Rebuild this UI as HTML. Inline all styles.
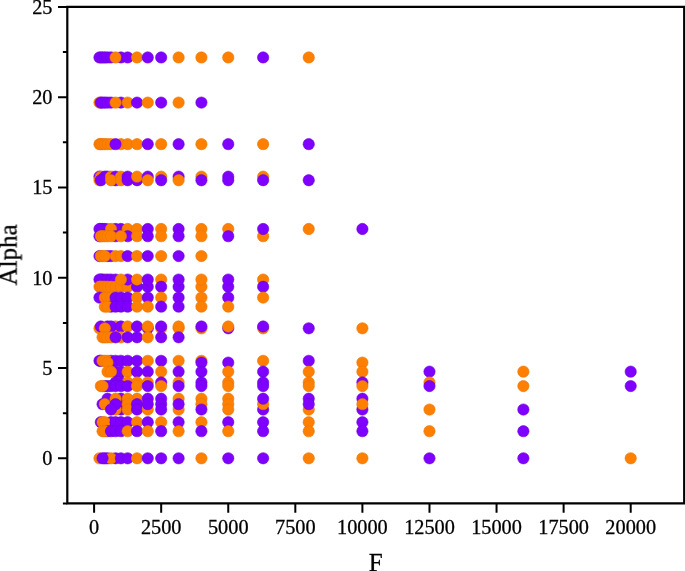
<!DOCTYPE html>
<html><head><meta charset="utf-8"><title>Scatter</title>
<style>
html,body{margin:0;padding:0;background:#fff;}
body{width:685px;height:571px;overflow:hidden;font-family:"Liberation Serif", serif;}
svg{display:block;}
</style></head>
<body>
<svg width="685" height="571" viewBox="0 0 685 571">
<rect width="685" height="571" fill="#fff"/>
<g stroke-width="0.6">
<circle cx="100.81" cy="57.46" r="5.65" fill="#ff8000" stroke="#e87400"/>
<circle cx="99.47" cy="57.46" r="5.65" fill="#8000ff" stroke="#6c00d8"/>
<circle cx="102.55" cy="57.46" r="5.65" fill="#8000ff" stroke="#6c00d8"/>
<circle cx="104.83" cy="57.46" r="5.65" fill="#8000ff" stroke="#6c00d8"/>
<circle cx="107.51" cy="57.46" r="5.65" fill="#8000ff" stroke="#6c00d8"/>
<circle cx="111.00" cy="57.46" r="5.65" fill="#8000ff" stroke="#6c00d8"/>
<circle cx="120.93" cy="57.46" r="5.65" fill="#8000ff" stroke="#6c00d8"/>
<circle cx="115.56" cy="57.46" r="5.65" fill="#ff8000" stroke="#e87400"/>
<circle cx="127.64" cy="57.46" r="5.65" fill="#8000ff" stroke="#6c00d8"/>
<circle cx="137.03" cy="57.46" r="5.65" fill="#ff8000" stroke="#e87400"/>
<circle cx="147.76" cy="57.46" r="5.65" fill="#8000ff" stroke="#6c00d8"/>
<circle cx="161.18" cy="57.46" r="5.65" fill="#8000ff" stroke="#6c00d8"/>
<circle cx="178.61" cy="57.46" r="5.65" fill="#ff8000" stroke="#e87400"/>
<circle cx="201.42" cy="57.46" r="5.65" fill="#ff8000" stroke="#e87400"/>
<circle cx="228.25" cy="57.46" r="5.65" fill="#ff8000" stroke="#e87400"/>
<circle cx="263.13" cy="57.46" r="5.65" fill="#8000ff" stroke="#6c00d8"/>
<circle cx="308.74" cy="57.46" r="5.65" fill="#ff8000" stroke="#e87400"/>
<circle cx="99.47" cy="102.60" r="5.65" fill="#ff8000" stroke="#e87400"/>
<circle cx="100.81" cy="102.60" r="5.65" fill="#8000ff" stroke="#6c00d8"/>
<circle cx="102.55" cy="102.60" r="5.65" fill="#8000ff" stroke="#6c00d8"/>
<circle cx="104.83" cy="102.60" r="5.65" fill="#8000ff" stroke="#6c00d8"/>
<circle cx="107.51" cy="102.60" r="5.65" fill="#8000ff" stroke="#6c00d8"/>
<circle cx="111.00" cy="102.60" r="5.65" fill="#8000ff" stroke="#6c00d8"/>
<circle cx="120.93" cy="102.60" r="5.65" fill="#8000ff" stroke="#6c00d8"/>
<circle cx="115.56" cy="102.60" r="5.65" fill="#ff8000" stroke="#e87400"/>
<circle cx="127.64" cy="102.60" r="5.65" fill="#ff8000" stroke="#e87400"/>
<circle cx="137.03" cy="102.60" r="5.65" fill="#8000ff" stroke="#6c00d8"/>
<circle cx="147.76" cy="102.60" r="5.65" fill="#ff8000" stroke="#e87400"/>
<circle cx="161.18" cy="102.60" r="5.65" fill="#8000ff" stroke="#6c00d8"/>
<circle cx="178.61" cy="102.60" r="5.65" fill="#ff8000" stroke="#e87400"/>
<circle cx="201.42" cy="102.60" r="5.65" fill="#8000ff" stroke="#6c00d8"/>
<circle cx="99.47" cy="144.13" r="5.65" fill="#ff8000" stroke="#e87400"/>
<circle cx="100.81" cy="144.13" r="5.65" fill="#ff8000" stroke="#e87400"/>
<circle cx="102.55" cy="144.13" r="5.65" fill="#ff8000" stroke="#e87400"/>
<circle cx="104.83" cy="144.13" r="5.65" fill="#ff8000" stroke="#e87400"/>
<circle cx="107.51" cy="144.13" r="5.65" fill="#ff8000" stroke="#e87400"/>
<circle cx="111.00" cy="144.13" r="5.65" fill="#ff8000" stroke="#e87400"/>
<circle cx="120.93" cy="144.13" r="5.65" fill="#ff8000" stroke="#e87400"/>
<circle cx="115.56" cy="144.13" r="5.65" fill="#8000ff" stroke="#6c00d8"/>
<circle cx="127.64" cy="144.13" r="5.65" fill="#ff8000" stroke="#e87400"/>
<circle cx="137.03" cy="144.13" r="5.65" fill="#ff8000" stroke="#e87400"/>
<circle cx="147.76" cy="144.13" r="5.65" fill="#8000ff" stroke="#6c00d8"/>
<circle cx="161.18" cy="144.13" r="5.65" fill="#ff8000" stroke="#e87400"/>
<circle cx="178.61" cy="144.13" r="5.65" fill="#8000ff" stroke="#6c00d8"/>
<circle cx="201.42" cy="144.13" r="5.65" fill="#ff8000" stroke="#e87400"/>
<circle cx="228.25" cy="144.13" r="5.65" fill="#8000ff" stroke="#6c00d8"/>
<circle cx="263.13" cy="144.13" r="5.65" fill="#ff8000" stroke="#e87400"/>
<circle cx="308.74" cy="144.13" r="5.65" fill="#8000ff" stroke="#6c00d8"/>
<circle cx="99.47" cy="176.63" r="5.65" fill="#8000ff" stroke="#6c00d8"/>
<circle cx="99.47" cy="180.24" r="5.65" fill="#ff8000" stroke="#e87400"/>
<circle cx="100.81" cy="176.63" r="5.65" fill="#ff8000" stroke="#e87400"/>
<circle cx="104.83" cy="176.63" r="5.65" fill="#8000ff" stroke="#6c00d8"/>
<circle cx="107.51" cy="176.63" r="5.65" fill="#8000ff" stroke="#6c00d8"/>
<circle cx="100.81" cy="180.24" r="5.65" fill="#8000ff" stroke="#6c00d8"/>
<circle cx="115.56" cy="180.24" r="5.65" fill="#8000ff" stroke="#6c00d8"/>
<circle cx="111.00" cy="176.63" r="5.65" fill="#ff8000" stroke="#e87400"/>
<circle cx="115.56" cy="176.63" r="5.65" fill="#8000ff" stroke="#6c00d8"/>
<circle cx="111.00" cy="180.24" r="5.65" fill="#ff8000" stroke="#e87400"/>
<circle cx="120.93" cy="176.63" r="5.65" fill="#ff8000" stroke="#e87400"/>
<circle cx="120.93" cy="180.24" r="5.65" fill="#ff8000" stroke="#e87400"/>
<circle cx="127.64" cy="176.63" r="5.65" fill="#8000ff" stroke="#6c00d8"/>
<circle cx="127.64" cy="180.24" r="5.65" fill="#8000ff" stroke="#6c00d8"/>
<circle cx="137.03" cy="180.24" r="5.65" fill="#8000ff" stroke="#6c00d8"/>
<circle cx="137.03" cy="176.63" r="5.65" fill="#ff8000" stroke="#e87400"/>
<circle cx="147.76" cy="176.63" r="5.65" fill="#8000ff" stroke="#6c00d8"/>
<circle cx="161.18" cy="176.63" r="5.65" fill="#ff8000" stroke="#e87400"/>
<circle cx="178.61" cy="176.63" r="5.65" fill="#8000ff" stroke="#6c00d8"/>
<circle cx="201.42" cy="176.63" r="5.65" fill="#ff8000" stroke="#e87400"/>
<circle cx="228.25" cy="176.63" r="5.65" fill="#8000ff" stroke="#6c00d8"/>
<circle cx="263.13" cy="176.63" r="5.65" fill="#ff8000" stroke="#e87400"/>
<circle cx="147.76" cy="180.24" r="5.65" fill="#ff8000" stroke="#e87400"/>
<circle cx="161.18" cy="180.24" r="5.65" fill="#8000ff" stroke="#6c00d8"/>
<circle cx="178.61" cy="180.24" r="5.65" fill="#ff8000" stroke="#e87400"/>
<circle cx="201.42" cy="180.24" r="5.65" fill="#8000ff" stroke="#6c00d8"/>
<circle cx="228.25" cy="180.24" r="5.65" fill="#8000ff" stroke="#6c00d8"/>
<circle cx="263.13" cy="180.24" r="5.65" fill="#8000ff" stroke="#6c00d8"/>
<circle cx="308.74" cy="180.24" r="5.65" fill="#8000ff" stroke="#6c00d8"/>
<circle cx="263.13" cy="236.21" r="5.65" fill="#ff8000" stroke="#e87400"/>
<circle cx="120.93" cy="228.99" r="5.65" fill="#8000ff" stroke="#6c00d8"/>
<circle cx="115.56" cy="228.99" r="5.65" fill="#8000ff" stroke="#6c00d8"/>
<circle cx="107.51" cy="228.99" r="5.65" fill="#ff8000" stroke="#e87400"/>
<circle cx="102.55" cy="228.99" r="5.65" fill="#8000ff" stroke="#6c00d8"/>
<circle cx="104.83" cy="228.99" r="5.65" fill="#8000ff" stroke="#6c00d8"/>
<circle cx="100.81" cy="228.99" r="5.65" fill="#8000ff" stroke="#6c00d8"/>
<circle cx="99.47" cy="228.99" r="5.65" fill="#8000ff" stroke="#6c00d8"/>
<circle cx="111.00" cy="228.99" r="5.65" fill="#ff8000" stroke="#e87400"/>
<circle cx="127.64" cy="228.99" r="5.65" fill="#ff8000" stroke="#e87400"/>
<circle cx="137.03" cy="228.99" r="5.65" fill="#ff8000" stroke="#e87400"/>
<circle cx="147.76" cy="228.99" r="5.65" fill="#8000ff" stroke="#6c00d8"/>
<circle cx="161.18" cy="228.99" r="5.65" fill="#ff8000" stroke="#e87400"/>
<circle cx="178.61" cy="228.99" r="5.65" fill="#8000ff" stroke="#6c00d8"/>
<circle cx="201.42" cy="228.99" r="5.65" fill="#ff8000" stroke="#e87400"/>
<circle cx="228.25" cy="228.99" r="5.65" fill="#ff8000" stroke="#e87400"/>
<circle cx="263.13" cy="228.99" r="5.65" fill="#8000ff" stroke="#6c00d8"/>
<circle cx="308.74" cy="228.99" r="5.65" fill="#ff8000" stroke="#e87400"/>
<circle cx="362.40" cy="228.99" r="5.65" fill="#8000ff" stroke="#6c00d8"/>
<circle cx="99.47" cy="236.21" r="5.65" fill="#8000ff" stroke="#6c00d8"/>
<circle cx="115.56" cy="236.21" r="5.65" fill="#8000ff" stroke="#6c00d8"/>
<circle cx="127.64" cy="236.21" r="5.65" fill="#8000ff" stroke="#6c00d8"/>
<circle cx="100.81" cy="236.21" r="5.65" fill="#ff8000" stroke="#e87400"/>
<circle cx="102.55" cy="236.21" r="5.65" fill="#ff8000" stroke="#e87400"/>
<circle cx="104.83" cy="236.21" r="5.65" fill="#ff8000" stroke="#e87400"/>
<circle cx="107.51" cy="236.21" r="5.65" fill="#ff8000" stroke="#e87400"/>
<circle cx="111.00" cy="236.21" r="5.65" fill="#ff8000" stroke="#e87400"/>
<circle cx="120.93" cy="236.21" r="5.65" fill="#ff8000" stroke="#e87400"/>
<circle cx="137.03" cy="236.21" r="5.65" fill="#ff8000" stroke="#e87400"/>
<circle cx="147.76" cy="236.21" r="5.65" fill="#8000ff" stroke="#6c00d8"/>
<circle cx="161.18" cy="236.21" r="5.65" fill="#ff8000" stroke="#e87400"/>
<circle cx="178.61" cy="236.21" r="5.65" fill="#8000ff" stroke="#6c00d8"/>
<circle cx="201.42" cy="236.21" r="5.65" fill="#ff8000" stroke="#e87400"/>
<circle cx="228.25" cy="236.21" r="5.65" fill="#8000ff" stroke="#6c00d8"/>
<circle cx="99.47" cy="256.07" r="5.65" fill="#8000ff" stroke="#6c00d8"/>
<circle cx="107.51" cy="256.07" r="5.65" fill="#8000ff" stroke="#6c00d8"/>
<circle cx="111.00" cy="256.07" r="5.65" fill="#8000ff" stroke="#6c00d8"/>
<circle cx="100.81" cy="256.07" r="5.65" fill="#ff8000" stroke="#e87400"/>
<circle cx="102.55" cy="256.07" r="5.65" fill="#ff8000" stroke="#e87400"/>
<circle cx="104.83" cy="256.07" r="5.65" fill="#ff8000" stroke="#e87400"/>
<circle cx="115.56" cy="256.07" r="5.65" fill="#ff8000" stroke="#e87400"/>
<circle cx="120.93" cy="256.07" r="5.65" fill="#ff8000" stroke="#e87400"/>
<circle cx="127.64" cy="256.07" r="5.65" fill="#8000ff" stroke="#6c00d8"/>
<circle cx="137.03" cy="256.07" r="5.65" fill="#ff8000" stroke="#e87400"/>
<circle cx="147.76" cy="256.07" r="5.65" fill="#8000ff" stroke="#6c00d8"/>
<circle cx="161.18" cy="256.07" r="5.65" fill="#ff8000" stroke="#e87400"/>
<circle cx="178.61" cy="256.07" r="5.65" fill="#8000ff" stroke="#6c00d8"/>
<circle cx="201.42" cy="256.07" r="5.65" fill="#ff8000" stroke="#e87400"/>
<circle cx="104.83" cy="279.55" r="5.65" fill="#ff8000" stroke="#e87400"/>
<circle cx="102.55" cy="279.55" r="5.65" fill="#8000ff" stroke="#6c00d8"/>
<circle cx="100.81" cy="279.55" r="5.65" fill="#8000ff" stroke="#6c00d8"/>
<circle cx="99.47" cy="279.55" r="5.65" fill="#8000ff" stroke="#6c00d8"/>
<circle cx="107.51" cy="279.55" r="5.65" fill="#8000ff" stroke="#6c00d8"/>
<circle cx="111.00" cy="279.55" r="5.65" fill="#8000ff" stroke="#6c00d8"/>
<circle cx="115.56" cy="279.55" r="5.65" fill="#8000ff" stroke="#6c00d8"/>
<circle cx="99.47" cy="286.77" r="5.65" fill="#ff8000" stroke="#e87400"/>
<circle cx="100.81" cy="286.77" r="5.65" fill="#ff8000" stroke="#e87400"/>
<circle cx="102.55" cy="286.77" r="5.65" fill="#ff8000" stroke="#e87400"/>
<circle cx="104.83" cy="286.77" r="5.65" fill="#ff8000" stroke="#e87400"/>
<circle cx="107.51" cy="286.77" r="5.65" fill="#ff8000" stroke="#e87400"/>
<circle cx="111.00" cy="286.77" r="5.65" fill="#ff8000" stroke="#e87400"/>
<circle cx="115.56" cy="286.77" r="5.65" fill="#ff8000" stroke="#e87400"/>
<circle cx="120.93" cy="286.77" r="5.65" fill="#ff8000" stroke="#e87400"/>
<circle cx="127.64" cy="286.77" r="5.65" fill="#ff8000" stroke="#e87400"/>
<circle cx="127.64" cy="279.55" r="5.65" fill="#8000ff" stroke="#6c00d8"/>
<circle cx="120.93" cy="279.55" r="5.65" fill="#ff8000" stroke="#e87400"/>
<circle cx="137.03" cy="286.77" r="5.65" fill="#8000ff" stroke="#6c00d8"/>
<circle cx="147.76" cy="286.77" r="5.65" fill="#8000ff" stroke="#6c00d8"/>
<circle cx="178.61" cy="286.77" r="5.65" fill="#8000ff" stroke="#6c00d8"/>
<circle cx="201.42" cy="286.77" r="5.65" fill="#ff8000" stroke="#e87400"/>
<circle cx="228.25" cy="286.77" r="5.65" fill="#8000ff" stroke="#6c00d8"/>
<circle cx="137.03" cy="279.55" r="5.65" fill="#ff8000" stroke="#e87400"/>
<circle cx="147.76" cy="279.55" r="5.65" fill="#8000ff" stroke="#6c00d8"/>
<circle cx="161.18" cy="279.55" r="5.65" fill="#ff8000" stroke="#e87400"/>
<circle cx="178.61" cy="279.55" r="5.65" fill="#8000ff" stroke="#6c00d8"/>
<circle cx="201.42" cy="279.55" r="5.65" fill="#ff8000" stroke="#e87400"/>
<circle cx="228.25" cy="279.55" r="5.65" fill="#8000ff" stroke="#6c00d8"/>
<circle cx="263.13" cy="279.55" r="5.65" fill="#ff8000" stroke="#e87400"/>
<circle cx="161.18" cy="286.77" r="5.65" fill="#8000ff" stroke="#6c00d8"/>
<circle cx="263.13" cy="286.77" r="5.65" fill="#8000ff" stroke="#6c00d8"/>
<circle cx="99.47" cy="297.60" r="5.65" fill="#8000ff" stroke="#6c00d8"/>
<circle cx="104.83" cy="297.60" r="5.65" fill="#ff8000" stroke="#e87400"/>
<circle cx="107.51" cy="297.60" r="5.65" fill="#ff8000" stroke="#e87400"/>
<circle cx="111.00" cy="297.60" r="5.65" fill="#ff8000" stroke="#e87400"/>
<circle cx="115.56" cy="297.60" r="5.65" fill="#8000ff" stroke="#6c00d8"/>
<circle cx="120.93" cy="297.60" r="5.65" fill="#8000ff" stroke="#6c00d8"/>
<circle cx="127.64" cy="297.60" r="5.65" fill="#8000ff" stroke="#6c00d8"/>
<circle cx="137.03" cy="297.60" r="5.65" fill="#ff8000" stroke="#e87400"/>
<circle cx="147.76" cy="297.60" r="5.65" fill="#8000ff" stroke="#6c00d8"/>
<circle cx="161.18" cy="297.60" r="5.65" fill="#ff8000" stroke="#e87400"/>
<circle cx="178.61" cy="297.60" r="5.65" fill="#8000ff" stroke="#6c00d8"/>
<circle cx="201.42" cy="297.60" r="5.65" fill="#ff8000" stroke="#e87400"/>
<circle cx="228.25" cy="297.60" r="5.65" fill="#8000ff" stroke="#6c00d8"/>
<circle cx="263.13" cy="297.60" r="5.65" fill="#ff8000" stroke="#e87400"/>
<circle cx="111.00" cy="306.63" r="5.65" fill="#8000ff" stroke="#6c00d8"/>
<circle cx="104.83" cy="306.63" r="5.65" fill="#ff8000" stroke="#e87400"/>
<circle cx="107.51" cy="306.63" r="5.65" fill="#ff8000" stroke="#e87400"/>
<circle cx="115.56" cy="306.63" r="5.65" fill="#8000ff" stroke="#6c00d8"/>
<circle cx="120.93" cy="306.63" r="5.65" fill="#8000ff" stroke="#6c00d8"/>
<circle cx="127.64" cy="306.63" r="5.65" fill="#8000ff" stroke="#6c00d8"/>
<circle cx="137.03" cy="306.63" r="5.65" fill="#ff8000" stroke="#e87400"/>
<circle cx="147.76" cy="306.63" r="5.65" fill="#ff8000" stroke="#e87400"/>
<circle cx="161.18" cy="306.63" r="5.65" fill="#8000ff" stroke="#6c00d8"/>
<circle cx="178.61" cy="306.63" r="5.65" fill="#8000ff" stroke="#6c00d8"/>
<circle cx="201.42" cy="306.63" r="5.65" fill="#ff8000" stroke="#e87400"/>
<circle cx="228.25" cy="306.63" r="5.65" fill="#ff8000" stroke="#e87400"/>
<circle cx="99.47" cy="328.30" r="5.65" fill="#ff8000" stroke="#e87400"/>
<circle cx="115.56" cy="326.49" r="5.65" fill="#ff8000" stroke="#e87400"/>
<circle cx="100.81" cy="326.49" r="5.65" fill="#8000ff" stroke="#6c00d8"/>
<circle cx="107.51" cy="326.49" r="5.65" fill="#8000ff" stroke="#6c00d8"/>
<circle cx="111.00" cy="326.49" r="5.65" fill="#8000ff" stroke="#6c00d8"/>
<circle cx="120.93" cy="326.49" r="5.65" fill="#8000ff" stroke="#6c00d8"/>
<circle cx="104.83" cy="328.30" r="5.65" fill="#ff8000" stroke="#e87400"/>
<circle cx="127.64" cy="326.49" r="5.65" fill="#ff8000" stroke="#e87400"/>
<circle cx="137.03" cy="326.49" r="5.65" fill="#8000ff" stroke="#6c00d8"/>
<circle cx="147.76" cy="328.30" r="5.65" fill="#8000ff" stroke="#6c00d8"/>
<circle cx="161.18" cy="328.30" r="5.65" fill="#ff8000" stroke="#e87400"/>
<circle cx="178.61" cy="328.30" r="5.65" fill="#ff8000" stroke="#e87400"/>
<circle cx="201.42" cy="328.30" r="5.65" fill="#ff8000" stroke="#e87400"/>
<circle cx="228.25" cy="328.30" r="5.65" fill="#8000ff" stroke="#6c00d8"/>
<circle cx="263.13" cy="328.30" r="5.65" fill="#ff8000" stroke="#e87400"/>
<circle cx="308.74" cy="328.30" r="5.65" fill="#8000ff" stroke="#6c00d8"/>
<circle cx="362.40" cy="328.30" r="5.65" fill="#ff8000" stroke="#e87400"/>
<circle cx="147.76" cy="326.49" r="5.65" fill="#ff8000" stroke="#e87400"/>
<circle cx="161.18" cy="326.49" r="5.65" fill="#8000ff" stroke="#6c00d8"/>
<circle cx="178.61" cy="326.49" r="5.65" fill="#ff8000" stroke="#e87400"/>
<circle cx="201.42" cy="326.49" r="5.65" fill="#8000ff" stroke="#6c00d8"/>
<circle cx="228.25" cy="326.49" r="5.65" fill="#ff8000" stroke="#e87400"/>
<circle cx="263.13" cy="326.49" r="5.65" fill="#8000ff" stroke="#6c00d8"/>
<circle cx="102.55" cy="337.32" r="5.65" fill="#ff8000" stroke="#e87400"/>
<circle cx="104.83" cy="337.32" r="5.65" fill="#ff8000" stroke="#e87400"/>
<circle cx="107.51" cy="337.32" r="5.65" fill="#ff8000" stroke="#e87400"/>
<circle cx="111.00" cy="337.32" r="5.65" fill="#ff8000" stroke="#e87400"/>
<circle cx="120.93" cy="337.32" r="5.65" fill="#ff8000" stroke="#e87400"/>
<circle cx="115.56" cy="337.32" r="5.65" fill="#8000ff" stroke="#6c00d8"/>
<circle cx="127.64" cy="337.32" r="5.65" fill="#8000ff" stroke="#6c00d8"/>
<circle cx="137.03" cy="337.32" r="5.65" fill="#8000ff" stroke="#6c00d8"/>
<circle cx="147.76" cy="337.32" r="5.65" fill="#ff8000" stroke="#e87400"/>
<circle cx="161.18" cy="337.32" r="5.65" fill="#8000ff" stroke="#6c00d8"/>
<circle cx="178.61" cy="337.32" r="5.65" fill="#8000ff" stroke="#6c00d8"/>
<circle cx="99.47" cy="360.80" r="5.65" fill="#8000ff" stroke="#6c00d8"/>
<circle cx="100.81" cy="360.80" r="5.65" fill="#8000ff" stroke="#6c00d8"/>
<circle cx="111.00" cy="360.80" r="5.65" fill="#8000ff" stroke="#6c00d8"/>
<circle cx="107.51" cy="360.80" r="5.65" fill="#ff8000" stroke="#e87400"/>
<circle cx="102.55" cy="360.80" r="5.65" fill="#ff8000" stroke="#e87400"/>
<circle cx="104.83" cy="360.80" r="5.65" fill="#ff8000" stroke="#e87400"/>
<circle cx="115.56" cy="360.80" r="5.65" fill="#8000ff" stroke="#6c00d8"/>
<circle cx="120.93" cy="360.80" r="5.65" fill="#8000ff" stroke="#6c00d8"/>
<circle cx="127.64" cy="360.80" r="5.65" fill="#8000ff" stroke="#6c00d8"/>
<circle cx="137.03" cy="360.80" r="5.65" fill="#8000ff" stroke="#6c00d8"/>
<circle cx="147.76" cy="360.80" r="5.65" fill="#ff8000" stroke="#e87400"/>
<circle cx="161.18" cy="360.80" r="5.65" fill="#8000ff" stroke="#6c00d8"/>
<circle cx="178.61" cy="360.80" r="5.65" fill="#ff8000" stroke="#e87400"/>
<circle cx="201.42" cy="360.80" r="5.65" fill="#ff8000" stroke="#e87400"/>
<circle cx="263.13" cy="360.80" r="5.65" fill="#ff8000" stroke="#e87400"/>
<circle cx="308.74" cy="360.80" r="5.65" fill="#8000ff" stroke="#6c00d8"/>
<circle cx="107.51" cy="362.60" r="5.65" fill="#ff8000" stroke="#e87400"/>
<circle cx="201.42" cy="362.60" r="5.65" fill="#8000ff" stroke="#6c00d8"/>
<circle cx="228.25" cy="362.60" r="5.65" fill="#8000ff" stroke="#6c00d8"/>
<circle cx="362.40" cy="362.60" r="5.65" fill="#ff8000" stroke="#e87400"/>
<circle cx="115.56" cy="371.63" r="5.65" fill="#8000ff" stroke="#6c00d8"/>
<circle cx="120.93" cy="371.63" r="5.65" fill="#8000ff" stroke="#6c00d8"/>
<circle cx="107.51" cy="371.63" r="5.65" fill="#ff8000" stroke="#e87400"/>
<circle cx="111.00" cy="371.63" r="5.65" fill="#ff8000" stroke="#e87400"/>
<circle cx="127.64" cy="371.63" r="5.65" fill="#ff8000" stroke="#e87400"/>
<circle cx="137.03" cy="371.63" r="5.65" fill="#8000ff" stroke="#6c00d8"/>
<circle cx="147.76" cy="371.63" r="5.65" fill="#8000ff" stroke="#6c00d8"/>
<circle cx="161.18" cy="371.63" r="5.65" fill="#ff8000" stroke="#e87400"/>
<circle cx="178.61" cy="371.63" r="5.65" fill="#8000ff" stroke="#6c00d8"/>
<circle cx="201.42" cy="371.63" r="5.65" fill="#8000ff" stroke="#6c00d8"/>
<circle cx="228.25" cy="371.63" r="5.65" fill="#ff8000" stroke="#e87400"/>
<circle cx="263.13" cy="371.63" r="5.65" fill="#8000ff" stroke="#6c00d8"/>
<circle cx="308.74" cy="371.63" r="5.65" fill="#ff8000" stroke="#e87400"/>
<circle cx="362.40" cy="371.63" r="5.65" fill="#ff8000" stroke="#e87400"/>
<circle cx="429.48" cy="371.63" r="5.65" fill="#8000ff" stroke="#6c00d8"/>
<circle cx="523.38" cy="371.63" r="5.65" fill="#ff8000" stroke="#e87400"/>
<circle cx="630.70" cy="371.63" r="5.65" fill="#8000ff" stroke="#6c00d8"/>
<circle cx="115.56" cy="382.46" r="5.65" fill="#8000ff" stroke="#6c00d8"/>
<circle cx="120.93" cy="382.46" r="5.65" fill="#8000ff" stroke="#6c00d8"/>
<circle cx="127.64" cy="382.46" r="5.65" fill="#ff8000" stroke="#e87400"/>
<circle cx="137.03" cy="382.46" r="5.65" fill="#ff8000" stroke="#e87400"/>
<circle cx="147.76" cy="382.46" r="5.65" fill="#ff8000" stroke="#e87400"/>
<circle cx="161.18" cy="382.46" r="5.65" fill="#8000ff" stroke="#6c00d8"/>
<circle cx="178.61" cy="382.46" r="5.65" fill="#ff8000" stroke="#e87400"/>
<circle cx="201.42" cy="382.46" r="5.65" fill="#8000ff" stroke="#6c00d8"/>
<circle cx="228.25" cy="382.46" r="5.65" fill="#ff8000" stroke="#e87400"/>
<circle cx="263.13" cy="382.46" r="5.65" fill="#8000ff" stroke="#6c00d8"/>
<circle cx="308.74" cy="382.46" r="5.65" fill="#ff8000" stroke="#e87400"/>
<circle cx="362.40" cy="382.46" r="5.65" fill="#8000ff" stroke="#6c00d8"/>
<circle cx="429.48" cy="382.46" r="5.65" fill="#ff8000" stroke="#e87400"/>
<circle cx="104.83" cy="386.08" r="5.65" fill="#8000ff" stroke="#6c00d8"/>
<circle cx="107.51" cy="386.08" r="5.65" fill="#8000ff" stroke="#6c00d8"/>
<circle cx="111.00" cy="386.08" r="5.65" fill="#8000ff" stroke="#6c00d8"/>
<circle cx="100.81" cy="386.08" r="5.65" fill="#ff8000" stroke="#e87400"/>
<circle cx="102.55" cy="386.08" r="5.65" fill="#ff8000" stroke="#e87400"/>
<circle cx="115.56" cy="386.08" r="5.65" fill="#8000ff" stroke="#6c00d8"/>
<circle cx="120.93" cy="386.08" r="5.65" fill="#8000ff" stroke="#6c00d8"/>
<circle cx="127.64" cy="386.08" r="5.65" fill="#8000ff" stroke="#6c00d8"/>
<circle cx="137.03" cy="386.08" r="5.65" fill="#ff8000" stroke="#e87400"/>
<circle cx="147.76" cy="386.08" r="5.65" fill="#8000ff" stroke="#6c00d8"/>
<circle cx="161.18" cy="386.08" r="5.65" fill="#ff8000" stroke="#e87400"/>
<circle cx="178.61" cy="386.08" r="5.65" fill="#8000ff" stroke="#6c00d8"/>
<circle cx="201.42" cy="386.08" r="5.65" fill="#8000ff" stroke="#6c00d8"/>
<circle cx="228.25" cy="386.08" r="5.65" fill="#ff8000" stroke="#e87400"/>
<circle cx="263.13" cy="386.08" r="5.65" fill="#8000ff" stroke="#6c00d8"/>
<circle cx="308.74" cy="386.08" r="5.65" fill="#ff8000" stroke="#e87400"/>
<circle cx="362.40" cy="386.08" r="5.65" fill="#ff8000" stroke="#e87400"/>
<circle cx="429.48" cy="386.08" r="5.65" fill="#8000ff" stroke="#6c00d8"/>
<circle cx="523.38" cy="386.08" r="5.65" fill="#ff8000" stroke="#e87400"/>
<circle cx="630.70" cy="386.08" r="5.65" fill="#8000ff" stroke="#6c00d8"/>
<circle cx="107.51" cy="398.72" r="5.65" fill="#8000ff" stroke="#6c00d8"/>
<circle cx="120.93" cy="398.72" r="5.65" fill="#8000ff" stroke="#6c00d8"/>
<circle cx="115.56" cy="398.72" r="5.65" fill="#ff8000" stroke="#e87400"/>
<circle cx="137.03" cy="398.72" r="5.65" fill="#ff8000" stroke="#e87400"/>
<circle cx="102.55" cy="404.13" r="5.65" fill="#8000ff" stroke="#6c00d8"/>
<circle cx="104.83" cy="404.13" r="5.65" fill="#ff8000" stroke="#e87400"/>
<circle cx="120.93" cy="409.55" r="5.65" fill="#8000ff" stroke="#6c00d8"/>
<circle cx="115.56" cy="409.55" r="5.65" fill="#ff8000" stroke="#e87400"/>
<circle cx="115.56" cy="404.13" r="5.65" fill="#8000ff" stroke="#6c00d8"/>
<circle cx="111.00" cy="409.55" r="5.65" fill="#8000ff" stroke="#6c00d8"/>
<circle cx="127.64" cy="398.72" r="5.65" fill="#ff8000" stroke="#e87400"/>
<circle cx="127.64" cy="404.13" r="5.65" fill="#ff8000" stroke="#e87400"/>
<circle cx="127.64" cy="409.55" r="5.65" fill="#ff8000" stroke="#e87400"/>
<circle cx="137.03" cy="404.13" r="5.65" fill="#8000ff" stroke="#6c00d8"/>
<circle cx="137.03" cy="409.55" r="5.65" fill="#8000ff" stroke="#6c00d8"/>
<circle cx="147.76" cy="409.55" r="5.65" fill="#ff8000" stroke="#e87400"/>
<circle cx="147.76" cy="398.72" r="5.65" fill="#8000ff" stroke="#6c00d8"/>
<circle cx="147.76" cy="404.13" r="5.65" fill="#8000ff" stroke="#6c00d8"/>
<circle cx="161.18" cy="398.72" r="5.65" fill="#8000ff" stroke="#6c00d8"/>
<circle cx="161.18" cy="404.13" r="5.65" fill="#8000ff" stroke="#6c00d8"/>
<circle cx="161.18" cy="409.55" r="5.65" fill="#8000ff" stroke="#6c00d8"/>
<circle cx="178.61" cy="398.72" r="5.65" fill="#ff8000" stroke="#e87400"/>
<circle cx="178.61" cy="409.55" r="5.65" fill="#ff8000" stroke="#e87400"/>
<circle cx="178.61" cy="404.13" r="5.65" fill="#8000ff" stroke="#6c00d8"/>
<circle cx="201.42" cy="398.72" r="5.65" fill="#ff8000" stroke="#e87400"/>
<circle cx="201.42" cy="404.13" r="5.65" fill="#ff8000" stroke="#e87400"/>
<circle cx="201.42" cy="409.55" r="5.65" fill="#8000ff" stroke="#6c00d8"/>
<circle cx="228.25" cy="398.72" r="5.65" fill="#ff8000" stroke="#e87400"/>
<circle cx="228.25" cy="404.13" r="5.65" fill="#ff8000" stroke="#e87400"/>
<circle cx="228.25" cy="409.55" r="5.65" fill="#ff8000" stroke="#e87400"/>
<circle cx="263.13" cy="409.55" r="5.65" fill="#8000ff" stroke="#6c00d8"/>
<circle cx="263.13" cy="404.13" r="5.65" fill="#ff8000" stroke="#e87400"/>
<circle cx="263.13" cy="398.72" r="5.65" fill="#8000ff" stroke="#6c00d8"/>
<circle cx="308.74" cy="409.55" r="5.65" fill="#ff8000" stroke="#e87400"/>
<circle cx="308.74" cy="398.72" r="5.65" fill="#8000ff" stroke="#6c00d8"/>
<circle cx="308.74" cy="404.13" r="5.65" fill="#8000ff" stroke="#6c00d8"/>
<circle cx="362.40" cy="398.72" r="5.65" fill="#8000ff" stroke="#6c00d8"/>
<circle cx="362.40" cy="409.55" r="5.65" fill="#8000ff" stroke="#6c00d8"/>
<circle cx="362.40" cy="404.13" r="5.65" fill="#ff8000" stroke="#e87400"/>
<circle cx="429.48" cy="409.55" r="5.65" fill="#ff8000" stroke="#e87400"/>
<circle cx="523.38" cy="409.55" r="5.65" fill="#8000ff" stroke="#6c00d8"/>
<circle cx="100.81" cy="422.19" r="5.65" fill="#8000ff" stroke="#6c00d8"/>
<circle cx="111.00" cy="422.19" r="5.65" fill="#8000ff" stroke="#6c00d8"/>
<circle cx="102.55" cy="422.19" r="5.65" fill="#ff8000" stroke="#e87400"/>
<circle cx="104.83" cy="422.19" r="5.65" fill="#ff8000" stroke="#e87400"/>
<circle cx="115.56" cy="422.19" r="5.65" fill="#8000ff" stroke="#6c00d8"/>
<circle cx="120.93" cy="422.19" r="5.65" fill="#8000ff" stroke="#6c00d8"/>
<circle cx="127.64" cy="422.19" r="5.65" fill="#8000ff" stroke="#6c00d8"/>
<circle cx="137.03" cy="422.19" r="5.65" fill="#ff8000" stroke="#e87400"/>
<circle cx="147.76" cy="422.19" r="5.65" fill="#8000ff" stroke="#6c00d8"/>
<circle cx="161.18" cy="422.19" r="5.65" fill="#ff8000" stroke="#e87400"/>
<circle cx="178.61" cy="422.19" r="5.65" fill="#8000ff" stroke="#6c00d8"/>
<circle cx="201.42" cy="422.19" r="5.65" fill="#ff8000" stroke="#e87400"/>
<circle cx="228.25" cy="422.19" r="5.65" fill="#8000ff" stroke="#6c00d8"/>
<circle cx="263.13" cy="422.19" r="5.65" fill="#8000ff" stroke="#6c00d8"/>
<circle cx="308.74" cy="422.19" r="5.65" fill="#ff8000" stroke="#e87400"/>
<circle cx="362.40" cy="422.19" r="5.65" fill="#8000ff" stroke="#6c00d8"/>
<circle cx="107.51" cy="431.22" r="5.65" fill="#8000ff" stroke="#6c00d8"/>
<circle cx="102.55" cy="431.22" r="5.65" fill="#ff8000" stroke="#e87400"/>
<circle cx="104.83" cy="431.22" r="5.65" fill="#ff8000" stroke="#e87400"/>
<circle cx="111.00" cy="431.22" r="5.65" fill="#8000ff" stroke="#6c00d8"/>
<circle cx="115.56" cy="431.22" r="5.65" fill="#8000ff" stroke="#6c00d8"/>
<circle cx="120.93" cy="431.22" r="5.65" fill="#8000ff" stroke="#6c00d8"/>
<circle cx="127.64" cy="431.22" r="5.65" fill="#ff8000" stroke="#e87400"/>
<circle cx="137.03" cy="431.22" r="5.65" fill="#8000ff" stroke="#6c00d8"/>
<circle cx="147.76" cy="431.22" r="5.65" fill="#ff8000" stroke="#e87400"/>
<circle cx="161.18" cy="431.22" r="5.65" fill="#8000ff" stroke="#6c00d8"/>
<circle cx="178.61" cy="431.22" r="5.65" fill="#ff8000" stroke="#e87400"/>
<circle cx="201.42" cy="431.22" r="5.65" fill="#8000ff" stroke="#6c00d8"/>
<circle cx="228.25" cy="431.22" r="5.65" fill="#ff8000" stroke="#e87400"/>
<circle cx="263.13" cy="431.22" r="5.65" fill="#8000ff" stroke="#6c00d8"/>
<circle cx="308.74" cy="431.22" r="5.65" fill="#ff8000" stroke="#e87400"/>
<circle cx="362.40" cy="431.22" r="5.65" fill="#8000ff" stroke="#6c00d8"/>
<circle cx="429.48" cy="431.22" r="5.65" fill="#ff8000" stroke="#e87400"/>
<circle cx="523.38" cy="431.22" r="5.65" fill="#8000ff" stroke="#6c00d8"/>
<circle cx="99.47" cy="458.30" r="5.65" fill="#ff8000" stroke="#e87400"/>
<circle cx="104.83" cy="458.30" r="5.65" fill="#8000ff" stroke="#6c00d8"/>
<circle cx="107.51" cy="458.30" r="5.65" fill="#8000ff" stroke="#6c00d8"/>
<circle cx="115.56" cy="458.30" r="5.65" fill="#8000ff" stroke="#6c00d8"/>
<circle cx="111.00" cy="458.30" r="5.65" fill="#ff8000" stroke="#e87400"/>
<circle cx="102.55" cy="458.30" r="5.65" fill="#8000ff" stroke="#6c00d8"/>
<circle cx="120.93" cy="458.30" r="5.65" fill="#8000ff" stroke="#6c00d8"/>
<circle cx="127.64" cy="458.30" r="5.65" fill="#8000ff" stroke="#6c00d8"/>
<circle cx="137.03" cy="458.30" r="5.65" fill="#ff8000" stroke="#e87400"/>
<circle cx="147.76" cy="458.30" r="5.65" fill="#8000ff" stroke="#6c00d8"/>
<circle cx="161.18" cy="458.30" r="5.65" fill="#8000ff" stroke="#6c00d8"/>
<circle cx="178.61" cy="458.30" r="5.65" fill="#8000ff" stroke="#6c00d8"/>
<circle cx="201.42" cy="458.30" r="5.65" fill="#ff8000" stroke="#e87400"/>
<circle cx="228.25" cy="458.30" r="5.65" fill="#8000ff" stroke="#6c00d8"/>
<circle cx="263.13" cy="458.30" r="5.65" fill="#8000ff" stroke="#6c00d8"/>
<circle cx="308.74" cy="458.30" r="5.65" fill="#ff8000" stroke="#e87400"/>
<circle cx="362.40" cy="458.30" r="5.65" fill="#ff8000" stroke="#e87400"/>
<circle cx="429.48" cy="458.30" r="5.65" fill="#8000ff" stroke="#6c00d8"/>
<circle cx="523.38" cy="458.30" r="5.65" fill="#8000ff" stroke="#6c00d8"/>
<circle cx="630.70" cy="458.30" r="5.65" fill="#ff8000" stroke="#e87400"/>
</g>
<path d="M67.3 6.9H684.2V503.4H67.3Z" fill="none" stroke="#000" stroke-width="2.2" stroke-linejoin="miter"/>
<path d="M58.00 458.30H67.3 M58.00 368.02H67.3 M58.00 277.74H67.3 M58.00 187.46H67.3 M58.00 97.18H67.3 M58.00 6.90H67.3 M62.90 503.44H67.3 M62.90 413.16H67.3 M62.90 322.88H67.3 M62.90 232.60H67.3 M62.90 142.32H67.3 M62.90 52.04H67.3 M94.10 503.4V512.70 M161.18 503.4V512.70 M228.25 503.4V512.70 M295.32 503.4V512.70 M362.40 503.4V512.70 M429.48 503.4V512.70 M496.55 503.4V512.70 M563.62 503.4V512.70 M630.70 503.4V512.70" fill="none" stroke="#000" stroke-width="2"/>
<g font-family="'Liberation Serif', serif" font-size="20.3" fill="#000" stroke="#000" stroke-width="0.3" opacity="0.999">
<text x="52.5" y="465.30" text-anchor="end">0</text>
<text x="52.5" y="375.02" text-anchor="end">5</text>
<text x="52.5" y="284.74" text-anchor="end">10</text>
<text x="52.5" y="194.46" text-anchor="end">15</text>
<text x="52.5" y="104.18" text-anchor="end">20</text>
<text x="52.5" y="13.90" text-anchor="end">25</text>
<text x="94.10" y="533.9" text-anchor="middle">0</text>
<text x="161.18" y="533.9" text-anchor="middle">2500</text>
<text x="228.25" y="533.9" text-anchor="middle">5000</text>
<text x="295.32" y="533.9" text-anchor="middle">7500</text>
<text x="362.40" y="533.9" text-anchor="middle">10000</text>
<text x="429.48" y="533.9" text-anchor="middle">12500</text>
<text x="496.55" y="533.9" text-anchor="middle">15000</text>
<text x="563.62" y="533.9" text-anchor="middle">17500</text>
<text x="630.70" y="533.9" text-anchor="middle">20000</text>
<text x="375.8" y="570.6" text-anchor="middle" font-size="25">F</text>
<text transform="translate(16.6 254.9) rotate(-90)" text-anchor="middle" font-size="25">Alpha</text>
</g>
</svg>
</body></html>
